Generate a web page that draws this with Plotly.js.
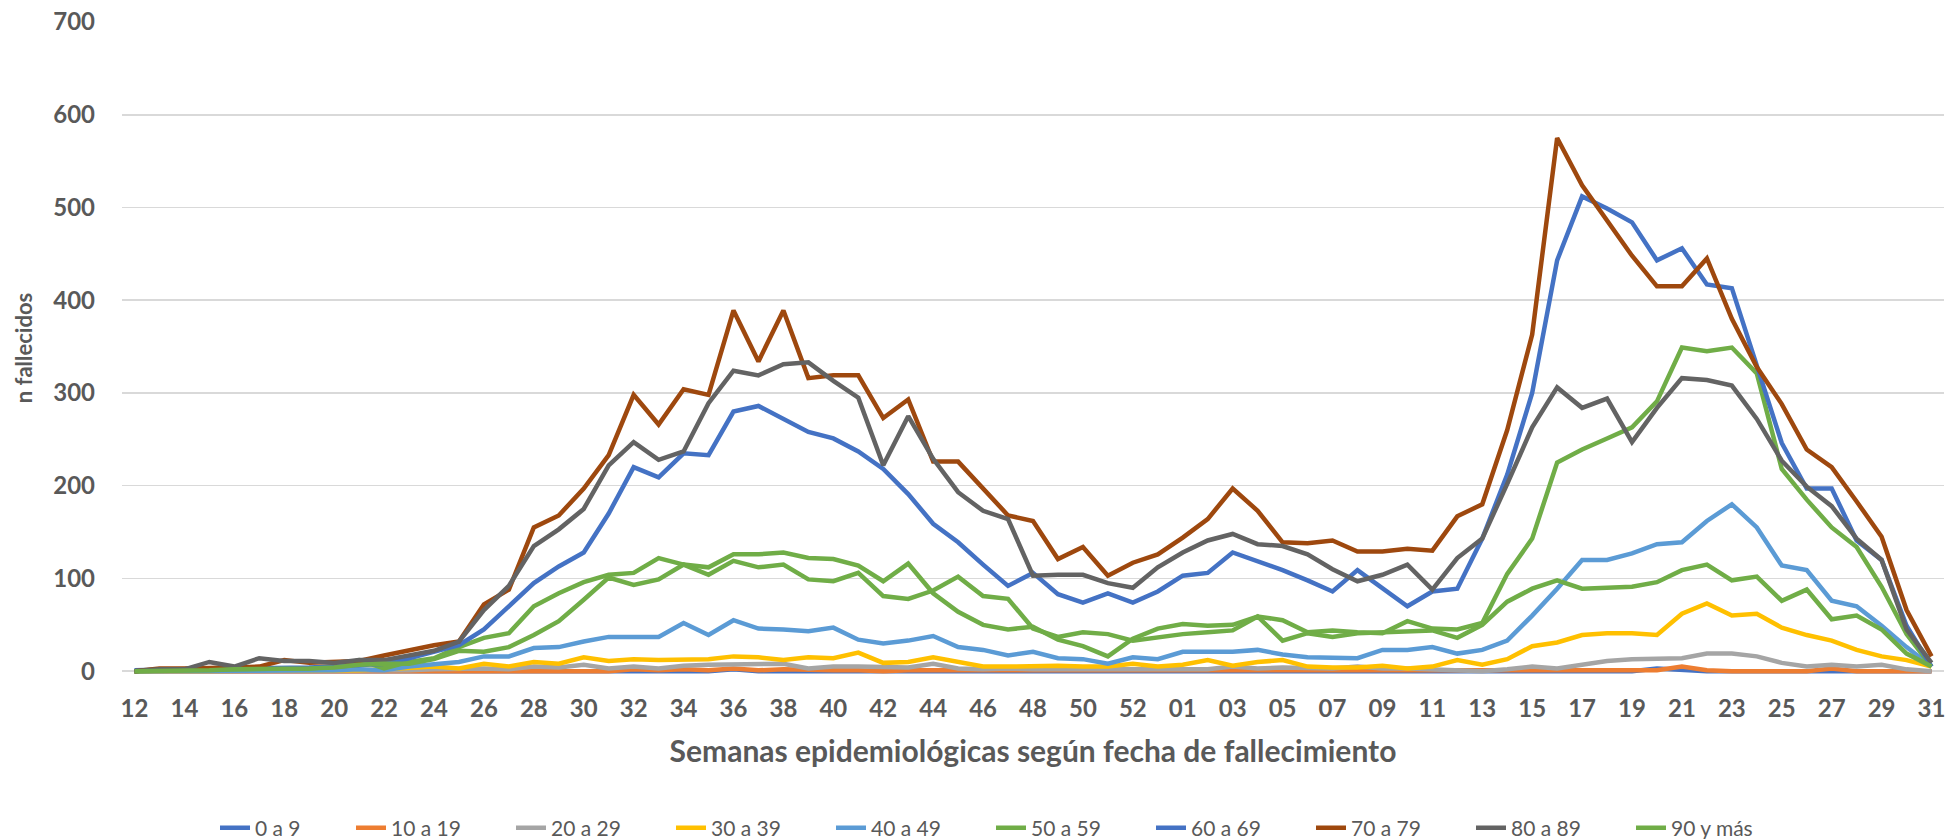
<!DOCTYPE html>
<html>
<head>
<meta charset="utf-8">
<script src="https://cdn.plot.ly/plotly-3.0.1.min.js"></script>
<style>
  html, body { margin: 0; padding: 0; background: #ffffff; }
  #chart { width: 1946px; height: 839px; }
</style>
</head>
<body>
<div id="chart"></div>
<script>
// Semanas epidemiológicas (2020: 12..53, 2021: 01..31)
const semanas = ['12','13','14','15','16','17','18','19','20','21','22','23','24','25','26','27','28','29','30','31',
  '32','33','34','35','36','37','38','39','40','41','42','43','44','45','46','47','48','49','50','51','52','53',
  '01','02','03','04','05','06','07','08','09','10','11','12','13','14','15','16','17','18','19','20','21','22',
  '23','24','25','26','27','28','29','30','31'];

const seriesNames = ['0 a 9','10 a 19','20 a 29','30 a 39','40 a 49','50 a 59','60 a 69','70 a 79','80 a 89','90 y más'];

const d0a9 = [0,0,0,0,0,0,0,0,0,0,0,0,0,
  0,0,0,0,0,0,0,0,0,1,0,2,0,0,0,0,0,0,0,
  0,0,0,0,0,0,0,0,0,0,
  0,0,0,0,0,0,0,0,0,0,0,
  0,0,0,0,0,0,0,0,3,1,0,0,0,0,0,0,0,0,0,0];
const d10a19 = [0,0,0,0,0,0,0,0,0,0,0,0,0,
  0,1,0,1,0,1,0,2,1,2,1,3,1,2,1,1,1,0,1,
  1,0,0,0,1,0,1,0,0,0,
  1,0,1,0,1,0,0,1,0,0,1,
  0,0,0,0,0,0,0,0,1,5,1,0,0,0,0,3,0,0,0,0];
const d20a29 = [0,0,0,0,0,0,0,0,0,1,0,1,2,
  3,3,2,5,4,7,3,5,3,6,7,7,8,8,3,5,5,5,4,
  8,3,2,3,2,2,3,2,3,2,
  3,2,5,3,4,3,3,5,3,3,2,
  2,0,2,5,3,7,11,13,13,14,19,19,16,9,5,7,5,7,2,0];
const d30a39 = [0,0,0,0,0,0,1,0,1,1,2,3,5,
  3,8,5,10,8,15,11,13,12,13,13,16,15,12,15,14,20,9,10,
  15,10,5,5,6,6,5,5,8,5,
  7,12,6,10,12,5,4,4,6,3,5,
  12,7,13,27,31,39,41,41,39,62,73,60,62,47,39,33,23,16,12,5];
const d40a49 = [0,0,0,0,1,1,1,1,1,2,1,5,7,
  10,16,16,25,26,32,37,37,37,52,39,55,46,45,43,47,34,30,33,
  38,26,23,17,21,14,13,8,15,13,
  21,21,21,23,18,15,15,14,23,23,26,
  19,23,33,60,89,120,120,127,137,139,162,180,155,114,109,76,70,49,26,5];
const d50a59 = [0,1,1,2,2,3,3,3,5,12,3,10,14,
  26,36,41,70,84,96,104,106,122,115,112,126,126,128,122,121,114,97,116,
  84,64,50,45,48,34,27,16,35,46,
  51,49,50,59,55,42,44,42,41,54,46,
  45,52,105,143,225,239,251,263,291,349,345,349,321,218,185,155,134,91,40,5];
const d60a69 = [1,2,2,3,3,3,4,4,5,6,8,14,21,
  28,45,70,95,113,128,170,220,209,235,233,280,286,272,258,251,237,218,191,
  159,139,115,92,106,83,74,84,74,86,
  103,106,128,119,109,98,86,109,90,70,86,
  89,143,212,300,443,512,499,484,443,456,417,413,328,246,197,197,141,120,49,5];
const d70a79 = [0,3,3,3,4,5,12,9,10,11,17,23,28,
  32,72,88,155,168,197,233,298,266,304,298,389,334,389,316,319,319,273,293,
  226,226,197,168,162,121,134,103,117,126,
  144,164,197,173,139,138,141,129,129,132,130,
  167,180,260,363,575,524,486,448,415,415,445,380,328,288,239,220,183,145,66,16];
const d80a89 = [0,2,2,10,5,14,11,11,9,12,12,17,22,
  32,66,92,135,153,175,222,247,228,237,289,324,319,331,333,313,295,222,275,
  229,193,173,164,103,104,104,95,90,112,
  128,141,148,137,135,126,110,97,104,115,88,
  122,143,202,263,306,284,294,247,284,316,314,308,272,227,199,178,143,120,45,9];
const d90ymas = [0,0,1,1,2,2,3,3,4,7,8,8,13,
  22,21,26,39,54,77,101,93,99,115,104,119,112,115,99,97,106,81,78,
  87,102,81,78,46,37,42,40,33,37,
  40,42,44,59,33,41,37,41,42,44,44,
  36,50,75,89,98,89,90,91,96,109,115,98,102,76,88,56,60,45,19,5];

const seriesValues = [d0a9, d10a19, d20a29, d30a39, d40a49, d50a59, d60a69, d70a79, d80a89, d90ymas];
const colors = ['#4472C4','#ED7D31','#A5A5A5','#FFC000','#5B9BD5','#70AD47','#4472C4','#9E480E','#636363','#70AD47'];

const xIdx = semanas.map((_, i) => i);
const tickIdx = xIdx.filter(i => i % 2 === 0);
const tickTxt = tickIdx.map(i => semanas[i]);

const FONT = 'Lato, "Open Sans", "Liberation Sans", sans-serif';
const GREY = '#595959';

const traces = seriesNames.map((name, k) => {
  const t = {
    type: 'scatter',
    mode: 'lines',
    name: name,
    x: xIdx,
    y: seriesValues[k],
    line: { color: colors[k], width: 4.5 },
    hoverinfo: 'skip'
  };
  if (k === 0) t.legendwidth = 91;
  return t;
});

const layout = {
  width: 1946,
  height: 839,
  paper_bgcolor: '#ffffff',
  plot_bgcolor: '#ffffff',
  margin: { l: 122, r: 2, t: 22, b: 165, pad: 0 },
  font: { family: FONT, color: GREY },
  showlegend: true,
  xaxis: {
    range: [-0.5, 72.5],
    tickmode: 'array',
    tickvals: tickIdx,
    ticktext: tickTxt,
    showgrid: false,
    zeroline: false,
    showline: false,
    ticks: '',
    ticklabelstandoff: 18,
    tickfont: { family: FONT, size: 24, color: GREY, weight: 'bold' },
    title: {
      text: 'Semanas epidemiológicas según fecha de fallecimiento',
      font: { family: FONT, size: 30, color: GREY, weight: 'bold' },
      standoff: 19
    },
    automargin: false
  },
  yaxis: {
    range: [-3, 700],
    tickmode: 'array',
    tickvals: [0,100,200,300,400,500,600,700],
    showgrid: true,
    gridcolor: '#d9d9d9',
    gridwidth: 1.5,
    zeroline: false,
    showline: false,
    ticks: '',
    ticklabelstandoff: 26,
    tickfont: { family: FONT, size: 24, color: GREY, weight: 'bold' },
    title: {
      text: 'n fallecidos',
      font: { family: FONT, size: 22, color: GREY, weight: 'bold' },
      standoff: 14
    },
    automargin: false
  },
  legend: {
    orientation: 'h',
    xref: 'container',
    yref: 'container',
    x: 215 / 1946,
    xanchor: 'left',
    y: (839 - 828) / 839,
    yanchor: 'middle',
    entrywidth: 115,
    entrywidthmode: 'pixels',
    traceorder: 'normal',
    font: { family: FONT, size: 21, color: GREY },
    bgcolor: 'rgba(0,0,0,0)',
    borderwidth: 0
  }
};

Plotly.newPlot('chart', traces, layout, { displayModeBar: false, staticPlot: true });
</script>
</body>
</html>
